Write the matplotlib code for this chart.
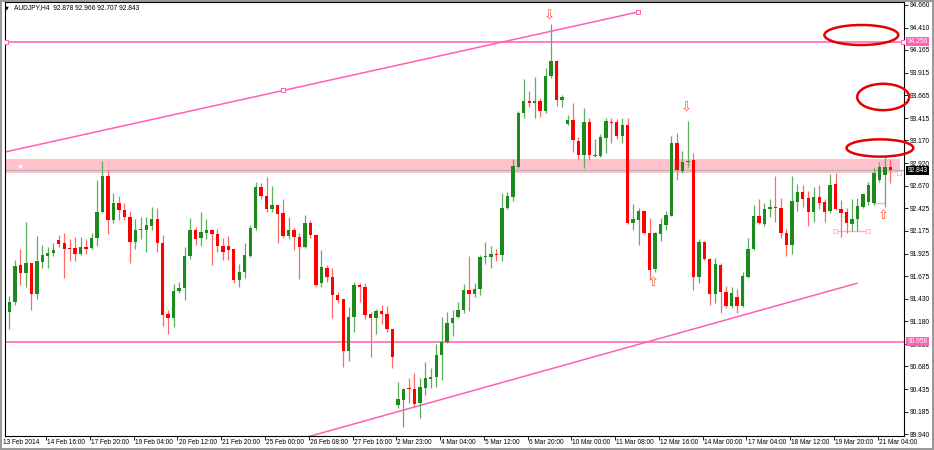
import numpy as np
import matplotlib
matplotlib.use('Agg')
import matplotlib.pyplot as plt
import matplotlib.transforms as mtransforms
from matplotlib.patches import Ellipse, Rectangle

# AUDJPY H4 candles
opens = [91.217, 91.283, 91.393, 91.800, 91.712, 91.822, 91.481, 91.833, 91.899, 91.932,
         92.075, 92.042, 91.987, 91.987, 91.921, 91.998, 91.987, 92.097, 92.383, 92.779,
         92.295, 92.482, 92.405, 92.328, 92.053, 92.185, 92.185, 92.229, 92.306, 92.042,
         91.261, 91.217, 91.514, 91.547, 91.899, 92.185, 92.097, 92.152, 92.185, 92.141,
         92.009, 92.009, 91.976, 91.635, 91.723, 91.899, 92.207, 92.658, 92.559, 92.416,
         92.460, 92.372, 92.119, 92.185, 92.108, 91.998, 92.262, 92.130, 91.602, 91.767,
         91.668, 91.470, 91.426, 90.854, 91.228, 91.580, 91.558, 91.261, 91.217, 91.294,
         91.261, 91.096, 90.260, 90.315, 90.447, 90.436, 90.282, 90.447, 90.546, 90.568,
         90.810, 90.953, 91.162, 91.228, 91.305, 91.525, 91.481, 91.536, 91.888, 91.888,
         91.921, 91.910, 92.427, 92.548, 92.878, 93.472, 93.604, 93.582, 93.604, 93.494,
         93.879, 94.044, 93.615, 93.351, 93.395, 93.164, 93.010, 93.373, 92.999, 92.999,
         93.197, 93.373, 93.373, 93.219, 93.340, 92.262, 92.295, 92.394, 92.152, 91.756,
         92.141, 92.240, 92.339, 93.142, 92.834, 92.933, 92.955, 91.668, 92.053, 91.866,
         91.481, 91.800, 91.503, 91.349, 91.448, 91.349, 91.668, 91.976, 92.339, 92.251,
         92.416, 92.438, 92.427, 92.152, 92.020, 92.493, 92.603, 92.537, 92.383, 92.548,
         92.493, 92.394, 92.691, 92.416, 92.383, 92.251, 92.306, 92.438, 92.493, 92.482,
         92.735, 92.790, 92.878]
highs = [91.492, 91.459, 91.855, 91.976, 92.273, 91.822, 92.119, 92.020, 91.998, 92.042,
         92.130, 92.152, 92.086, 92.108, 92.108, 92.086, 92.152, 92.735, 92.944, 92.845,
         92.592, 92.559, 92.482, 92.394, 92.306, 92.328, 92.328, 92.438, 92.427, 92.130,
         91.305, 91.591, 91.613, 91.998, 92.317, 92.218, 92.383, 92.306, 92.196, 92.196,
         92.097, 92.119, 91.976, 91.811, 92.042, 92.240, 92.713, 92.702, 92.768, 92.669,
         92.460, 92.526, 92.328, 92.218, 92.152, 92.350, 92.295, 92.141, 91.965, 91.800,
         91.767, 91.503, 91.426, 91.338, 91.613, 91.602, 91.602, 91.283, 91.316, 91.360,
         91.349, 91.096, 90.513, 90.447, 90.557, 90.612, 90.557, 90.733, 90.667, 90.931,
         91.228, 91.283, 91.305, 91.393, 91.591, 91.899, 91.602, 91.910, 92.053, 92.009,
         91.976, 92.592, 92.603, 92.966, 93.494, 93.846, 93.714, 93.868, 93.637, 93.967,
         94.451, 94.055, 93.670, 93.450, 93.582, 93.208, 93.527, 93.417, 93.186, 93.241,
         93.417, 93.417, 93.406, 93.417, 93.417, 92.471, 92.427, 92.405, 92.317, 92.160,
         92.317, 92.394, 93.219, 93.252, 93.054, 93.384, 93.032, 92.086, 92.064, 91.877,
         91.877, 91.822, 91.569, 91.558, 91.536, 91.723, 92.097, 92.460, 92.526, 92.482,
         92.526, 92.779, 92.537, 92.196, 92.779, 92.691, 92.680, 92.614, 92.658, 92.680,
         92.526, 92.801, 92.812, 92.515, 92.427, 92.526, 92.537, 92.592, 92.713, 92.867,
         92.933, 92.990, 92.966]
lows = [91.107, 91.096, 91.360, 91.580, 91.558, 91.305, 91.426, 91.767, 91.767, 91.899,
        91.998, 91.657, 91.844, 91.844, 91.910, 91.921, 91.976, 92.009, 92.372, 92.141,
        92.262, 92.295, 92.295, 91.822, 91.976, 92.086, 91.943, 92.185, 91.943, 91.129,
        91.041, 91.118, 91.492, 91.415, 91.866, 92.020, 92.009, 92.086, 91.800, 91.943,
        91.855, 91.855, 91.602, 91.558, 91.657, 91.888, 92.185, 92.526, 92.383, 92.383,
        92.042, 92.097, 92.086, 91.965, 91.646, 91.990, 92.097, 91.569, 91.558, 91.613,
        91.217, 91.382, 90.678, 90.744, 91.063, 91.393, 91.206, 90.788, 91.041, 91.151,
        91.063, 90.667, 90.227, 90.018, 90.282, 90.238, 90.117, 90.370, 90.447, 90.458,
        90.535, 90.945, 91.019, 91.217, 91.272, 91.294, 91.448, 91.470, 91.811, 91.767,
        91.844, 91.844, 92.416, 92.504, 92.867, 93.417, 93.538, 93.417, 93.428, 93.472,
        93.857, 93.549, 93.538, 93.340, 93.043, 92.966, 92.867, 92.955, 92.990, 92.988,
        93.032, 93.142, 93.186, 93.142, 92.255, 92.185, 92.020, 92.145, 91.635, 91.723,
        92.064, 92.185, 92.335, 92.735, 92.812, 92.878, 91.525, 91.602, 91.855, 91.360,
        91.382, 91.272, 91.327, 91.327, 91.272, 91.338, 91.660, 91.965, 92.251, 92.229,
        92.328, 92.273, 92.097, 91.899, 91.921, 92.394, 92.438, 92.229, 92.273, 92.416,
        92.273, 92.372, 92.405, 92.108, 92.152, 92.174, 92.174, 92.427, 92.460, 92.460,
        92.713, 92.438, 92.707]
closes = [91.283, 91.393, 91.789, 91.712, 91.822, 91.481, 91.844, 91.910, 91.932, 91.965,
          92.031, 91.976, 91.976, 91.921, 91.998, 91.976, 92.097, 92.383, 92.779, 92.295,
          92.482, 92.405, 92.328, 92.053, 92.185, 92.196, 92.240, 92.306, 92.042, 91.250,
          91.217, 91.514, 91.547, 91.899, 92.185, 92.086, 92.163, 92.185, 92.141, 92.009,
          91.943, 91.965, 91.635, 91.723, 91.910, 92.207, 92.658, 92.559, 92.416, 92.460,
          92.361, 92.119, 92.185, 92.108, 91.998, 92.262, 92.130, 91.580, 91.778, 91.668,
          91.470, 91.415, 90.854, 91.228, 91.580, 91.558, 91.250, 91.217, 91.294, 91.261,
          91.096, 90.788, 90.326, 90.436, 90.436, 90.271, 90.458, 90.557, 90.568, 90.810,
          90.953, 91.162, 91.217, 91.305, 91.525, 91.481, 91.536, 91.888, 91.899, 91.921,
          91.910, 92.427, 92.559, 92.889, 93.472, 93.604, 93.582, 93.604, 93.494, 93.879,
          94.044, 93.615, 93.648, 93.395, 93.175, 93.010, 93.373, 93.010, 93.010, 93.208,
          93.384, 93.362, 93.219, 93.340, 92.262, 92.306, 92.394, 92.152, 91.745, 92.152,
          92.251, 92.350, 93.142, 92.845, 92.933, 92.944, 91.668, 92.053, 91.866, 91.481,
          91.811, 91.503, 91.349, 91.492, 91.349, 91.679, 91.976, 92.339, 92.262, 92.416,
          92.438, 92.427, 92.152, 92.020, 92.504, 92.603, 92.526, 92.383, 92.548, 92.482,
          92.383, 92.680, 92.416, 92.372, 92.262, 92.306, 92.449, 92.581, 92.680, 92.812,
          92.878, 92.880, 92.843]

date_labels = ["13 Feb 2014", "14 Feb 16:00", "17 Feb 20:00", "19 Feb 04:00", "20 Feb 12:00",
               "21 Feb 20:00", "25 Feb 00:00", "26 Feb 08:00", "27 Feb 16:00", "2 Mar 23:00",
               "4 Mar 04:00", "5 Mar 12:00", "6 Mar 20:00", "10 Mar 00:00", "11 Mar 08:00",
               "12 Mar 16:00", "14 Mar 00:00", "17 Mar 04:00", "18 Mar 12:00", "19 Mar 20:00",
               "21 Mar 04:00"]
price_ticks = ["94.660", "94.410", "94.165", "93.915", "93.665", "93.415", "93.170", "92.920",
               "92.670", "92.425", "92.175", "91.925", "91.675", "91.430", "91.180", "90.930",
               "90.685", "90.435", "90.185", "89.940"]

level_lines = [94.256, 90.958]
zone = (92.810, 92.966)
bid = 92.843
# trend lines: (bar, price) end points
upper_trend = [(0.18, 93.043), (51.0, 93.725), (115.9, 94.583)]
lower_trend = [(55.0, 89.901), (155.9, 91.599)]
# circled areas: (bar, price, width in bars, height in price)
circles = [(156.7, 94.330, 13.5, 0.22), (160.7, 93.648, 9.5, 0.29), (160.1, 93.087, 12.2, 0.19)]
arrows_down = [(99.6, 94.539), (124.7, 93.527)]
arrows_up = [(118.6, 91.602), (160.7, 92.339)]

pink = '#ff5fb4'
font = 'Liberation Sans'

fig = plt.figure(figsize=(9.34, 4.5), dpi=100)
ax = fig.add_axes([5 / 934, 14 / 450, 899 / 934, 434 / 450])
ax.set_xlim(0.18, 164.5)
ax.set_ylim(89.919, 94.693)

n = len(opens)
x = np.arange(n)
o = np.array(opens)
c = np.array(closes)
up = c >= o

# background objects
ax.add_patch(Rectangle((0.18, zone[0]), 163.6, zone[1] - zone[0], facecolor='#ffc1cc',
                       edgecolor='none', zorder=0))
ax.plot([3.0], [92.888], 's', ms=2, mfc='white', mec='white', zorder=1)
ax.plot([163.5], [92.812], 's', ms=2.5, mfc='white', mec='#ffb0c0', mew=0.6, zorder=1)
ax.axhline(bid, color='#b4b4b4', lw=0.8, zorder=1)
for lv in level_lines:
    ax.axhline(lv, color=pink, lw=1.1, zorder=1)
ax.plot([0.3], [level_lines[0]], 's', ms=2.5, mfc='white', mec=pink, mew=0.7, zorder=3)
ax.plot([164.3], [level_lines[0]], 's', ms=2.5, mfc='white', mec=pink, mew=0.7, zorder=3)

ux, uy = zip(*upper_trend)
ax.plot([ux[0], ux[-1]], [uy[0], uy[-1]], color=pink, lw=1.1, zorder=1)
ax.plot(ux[1:], uy[1:], 's', ms=2.5, mfc='white', mec=pink, mew=0.7, zorder=3)
lx, ly = zip(*lower_trend)
ax.plot(lx, ly, color=pink, lw=1.1, zorder=1)

# little pink bracket under the last candles
ax.plot([151.9, 158.0], [92.174, 92.174], color='#ffb0c8', lw=1, zorder=1)
ax.plot([151.9, 158.0], [92.174, 92.174], 's', ms=2.2, mfc='white', mec='#ffb0c8', mew=0.6, zorder=1)
ax.plot([158.8, 161.0], [92.482, 92.482], color='#ffb0c8', lw=0.9, zorder=1)

# candles
wick_cols = np.where(up, '#5fae5f', '#ff6868')
body_cols = np.where(up, '#1c8a1c', '#ff0000')
ax.vlines(x, lows, highs, colors=wick_cols, lw=0.9, zorder=2)
bottom = np.minimum(o, c)
height = np.maximum(np.abs(c - o), 0.012)
ax.bar(x, height, 0.62, bottom=bottom, color=body_cols, linewidth=0, zorder=2.5)

# circles
for cx, cy, w, h in circles:
    ax.add_patch(Ellipse((cx, cy), w, h, fill=False, edgecolor='#e60000', lw=1.8,
                         clip_on=False, zorder=5))

for ax_, ay in arrows_down:
    ax.text(ax_, ay, '\u21e9', color='#ff5a3c', fontsize=9.5, ha='center', va='center', zorder=4)
for ax_, ay in arrows_up:
    ax.text(ax_, ay, '\u21e7', color='#ff5a3c', fontsize=9.5, ha='center', va='center', zorder=4)

# axes
for s in ax.spines.values():
    s.set_color('black')
    s.set_linewidth(0.8)
ax.yaxis.tick_right()
ax.set_yticks([float(t) for t in price_ticks])
ax.set_yticklabels(price_ticks, fontsize=4.8, family=font)
ax.tick_params(axis='y', length=3, width=0.6, pad=1)

tick_pos = [8 * k - 0.3 for k in range(len(date_labels))]
ax.set_xticks(tick_pos[1:])
ax.set_xticklabels([])
ax.tick_params(axis='x', length=3, width=0.6)
trans = mtransforms.blended_transform_factory(ax.transData, ax.transAxes)
for p, lab in zip(tick_pos, date_labels):
    ax.text(p + 0.2, -0.008, lab, transform=trans, fontsize=4.7, family=font,
            ha='left', va='top', clip_on=False)

ytrans = mtransforms.blended_transform_factory(ax.transAxes, ax.transData)
ax.text(1.004, level_lines[0], '94.256', transform=ytrans, fontsize=4.8, family=font,
        color='white', ha='left', va='center', zorder=6,
        bbox=dict(facecolor=pink, edgecolor='none', pad=0.8))
ax.text(1.004, level_lines[1], '90.958', transform=ytrans, fontsize=4.8, family=font,
        color='white', ha='left', va='center', zorder=6,
        bbox=dict(facecolor=pink, edgecolor='none', pad=0.8))
ax.text(1.004, bid, '92.843', transform=ytrans, fontsize=4.8, family=font,
        color='white', ha='left', va='center', zorder=6,
        bbox=dict(facecolor='black', edgecolor='none', pad=0.8))

fig.text(5 / 934, 1 - 8 / 450, '\u25bc', fontsize=3.5, va='center', ha='left')
fig.text(14 / 934, 1 - 8 / 450, 'AUDJPY,H4  92.878 92.966 92.707 92.843', fontsize=4.8,
         family=font, va='center', ha='left')

fig.patch.set_edgecolor('#9a9a9a')
fig.patch.set_linewidth(1.5)

fig.savefig('out.png', dpi=100)
